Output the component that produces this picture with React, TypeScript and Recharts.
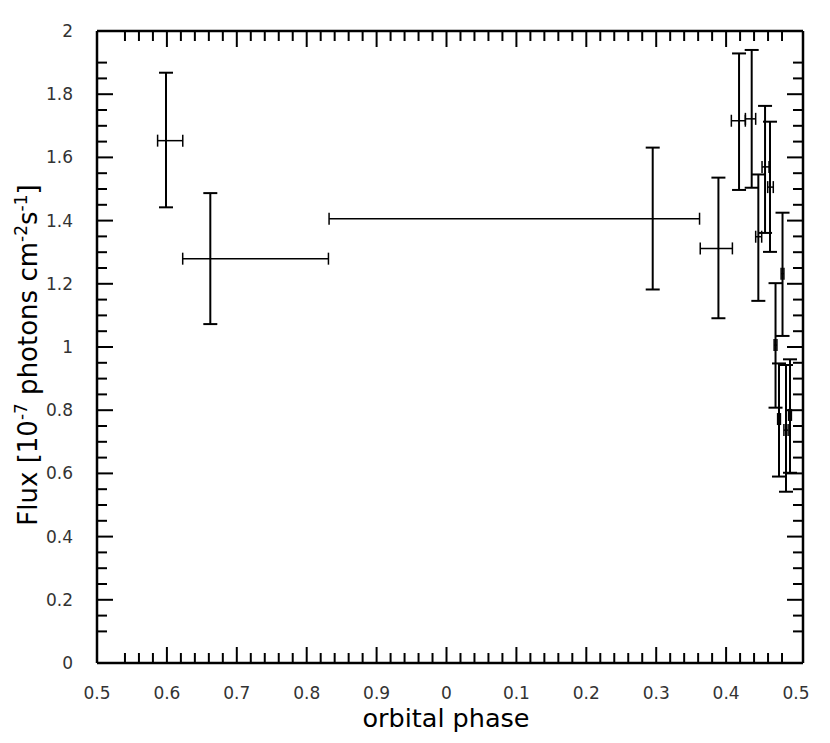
import React from 'react'
import { ScatterChart, Scatter, XAxis, YAxis, ErrorBar } from 'recharts'

// orbital phase of each point (0..1), x errors below / above
const phase = [0.5987, 0.6621, 0.295, 0.389, 0.4185, 0.4366, 0.4557, 0.4628, 0.4461, 0.4807, 0.4707, 0.4757, 0.4857, 0.4914]
const phaseErrLo = [0.012, 0.0395, 0.463, 0.026, 0.011, 0.009, 0.0043, 0.0033, 0.0038, 0.002, 0.002, 0.002, 0.003, 0.002]
const phaseErrHi = [0.024, 0.169, 0.067, 0.02, 0.009, 0.0057, 0.0057, 0.0047, 0.0048, 0.002, 0.002, 0.002, 0.003, 0.002]

// flux in 1e-7 photons cm^-2 s^-1, y errors below / above
const flux = [1.653, 1.2795, 1.406, 1.312, 1.716, 1.722, 1.57, 1.506, 1.349, 1.232, 1.006, 0.772, 0.737, 0.785]
const fluxErrLo = [0.211, 0.207, 0.224, 0.221, 0.219, 0.218, 0.209, 0.205, 0.203, 0.197, 0.198, 0.182, 0.195, 0.183]
const fluxErrHi = [0.215, 0.2075, 0.225, 0.224, 0.213, 0.218, 0.193, 0.207, 0.197, 0.193, 0.196, 0.176, 0.206, 0.176]

// axis labels (x runs from phase 0.5 through 0 to 0.5 again)
const xLabelTicks = [0.5, 0.6, 0.7, 0.8, 0.9, 1.0, 1.1, 1.2, 1.3, 1.4, 1.5]
const yLabelTicks = [0, 0.2, 0.4, 0.6, 0.8, 1, 1.2, 1.4, 1.6, 1.8, 2]

const X_DOMAIN: [number, number] = [0.5, 1.51]

// small tick marks every 0.02 in x, 0.05 in y (the ones next to the frame are left out)
const xMarks: number[] = []
for (let i = 2; i <= 49; i++) xMarks.push(+(0.5 + i * 0.02).toFixed(2))
const yMarks: number[] = []
for (let i = 2; i <= 38; i++) yMarks.push(+(i * 0.05).toFixed(2))

const xTicks = Array.from(new Set([...xLabelTicks, ...xMarks])).sort((a, b) => a - b)
const yTicks = Array.from(new Set([...yLabelTicks, ...yMarks])).sort((a, b) => a - b)

const data = phase.map((p, i) => ({
  x: p < 0.5 ? p + 1 : p,
  y: flux[i],
  ex: [phaseErrLo[i], phaseErrHi[i]],
  ey: [fluxErrLo[i], fluxErrHi[i]],
}))

const near = (a: number, b: number) => Math.abs(a - b) < 1e-6
const isMajor = (v: number, step: number) => near(v / step, Math.round(v / step))
const hasX = (v: number) => xMarks.some((m) => near(m, v))
const hasY = (v: number) => yMarks.some((m) => near(m, v))

function fmtPhase(v: number) {
  const p = v >= 1 - 1e-6 ? v - 1 : v
  return String(Math.round(p * 10) / 10)
}

const LABEL_STYLE = { fontFamily: 'DejaVu Sans', fontSize: 17, fill: '#333' }
const MAJOR = 16
const MINOR = 10

function BottomTick(props: any) {
  const { x, y, payload } = props
  const v = payload.value
  return (
    <g>
      {hasX(v) && (
        <line x1={x} x2={x} y1={y} y2={y - (isMajor(v, 0.1) ? MAJOR : MINOR)} stroke="#000" strokeWidth={2} />
      )}
      {xLabelTicks.some((t) => near(t, v)) && (
        <text x={x} y={y + 30} dy="0.35em" textAnchor="middle" {...LABEL_STYLE}>
          {fmtPhase(v)}
        </text>
      )}
    </g>
  )
}

function TopTick(props: any) {
  const { x, y, payload } = props
  const v = payload.value
  if (!hasX(v)) return <g />
  return <line x1={x} x2={x} y1={y} y2={y + (isMajor(v, 0.1) ? MAJOR : MINOR)} stroke="#000" strokeWidth={2} />
}

function LeftTick(props: any) {
  const { x, y, payload } = props
  const v = payload.value
  return (
    <g>
      {hasY(v) && (
        <line x1={x} x2={x + (isMajor(v, 0.2) ? MAJOR : MINOR)} y1={y} y2={y} stroke="#000" strokeWidth={2} />
      )}
      {yLabelTicks.some((t) => near(t, v)) && (
        <text x={x - 24} y={y} dy="0.35em" textAnchor="end" {...LABEL_STYLE}>
          {String(Math.round(v * 10) / 10)}
        </text>
      )}
    </g>
  )
}

function RightTick(props: any) {
  const { x, y, payload } = props
  const v = payload.value
  if (!hasY(v)) return <g />
  return <line x1={x} x2={x - (isMajor(v, 0.2) ? MAJOR : MINOR)} y1={y} y2={y} stroke="#000" strokeWidth={2} />
}

function XTitle(props: any) {
  const vb = props.viewBox
  return (
    <text x={vb.x + vb.width / 2 - 4} y={vb.y + 64} textAnchor="middle" fontFamily="DejaVu Sans" fontSize={25.5} fill="#000">
      orbital phase
    </text>
  )
}

function YTitle(props: any) {
  const vb = props.viewBox
  const cx = vb.x - 9
  const cy = vb.y + vb.height / 2 + 8
  return (
    <g transform={`translate(${cx},${cy}) rotate(-90)`}>
      <text x={0} y={0} dy={9} textAnchor="middle" fontFamily="DejaVu Sans" fontSize={26} fill="#000">
        Flux [10
        <tspan fontSize={17} dy={-10}>-7</tspan>
        <tspan dy={10}> photons cm</tspan>
        <tspan fontSize={17} dy={-10}>-2</tspan>
        <tspan dy={10}>s</tspan>
        <tspan fontSize={17} dy={-10}>-1</tspan>
        <tspan dy={10}>]</tspan>
      </text>
    </g>
  )
}

const axisLine = { stroke: '#000', strokeWidth: 2.5 }

export default function App() {
  return (
    <div style={{ position: 'absolute', left: 0, top: 0, width: 830, height: 743, background: '#fff' }}>
      <ScatterChart width={830} height={743} margin={{ top: 21, right: 17, bottom: 10, left: 37 }}>
        <XAxis
          xAxisId="bottom"
          dataKey="x"
          type="number"
          domain={X_DOMAIN}
          allowDataOverflow
          ticks={xTicks}
          interval={0}
          height={70}
          tickSize={0}
          tickMargin={0}
          tickLine={false}
          axisLine={axisLine}
          tick={<BottomTick />}
          label={<XTitle />}
        />
        <XAxis
          xAxisId="top"
          orientation="top"
          dataKey="x"
          type="number"
          domain={X_DOMAIN}
          allowDataOverflow
          ticks={xTicks}
          interval={0}
          height={10}
          tickSize={0}
          tickMargin={0}
          tickLine={false}
          axisLine={axisLine}
          tick={<TopTick />}
        />
        <YAxis
          yAxisId="left"
          dataKey="y"
          type="number"
          domain={[0, 2]}
          allowDataOverflow
          ticks={yTicks}
          interval={0}
          width={60}
          tickSize={0}
          tickMargin={0}
          tickLine={false}
          axisLine={axisLine}
          tick={<LeftTick />}
          label={<YTitle />}
        />
        <YAxis
          yAxisId="right"
          orientation="right"
          dataKey="y"
          type="number"
          domain={[0, 2]}
          allowDataOverflow
          ticks={yTicks}
          interval={0}
          width={10}
          tickSize={0}
          tickMargin={0}
          tickLine={false}
          axisLine={axisLine}
          tick={<RightTick />}
        />
        <Scatter
          data={data}
          xAxisId="bottom"
          yAxisId="left"
          shape={() => <g />}
          isAnimationActive={false}
        >
          <ErrorBar dataKey="ey" direction="y" width={7} stroke="#000" strokeWidth={2} isAnimationActive={false} />
          <ErrorBar dataKey="ex" direction="x" width={6} stroke="#000" strokeWidth={1.5} isAnimationActive={false} />
        </Scatter>
      </ScatterChart>
    </div>
  )
}
